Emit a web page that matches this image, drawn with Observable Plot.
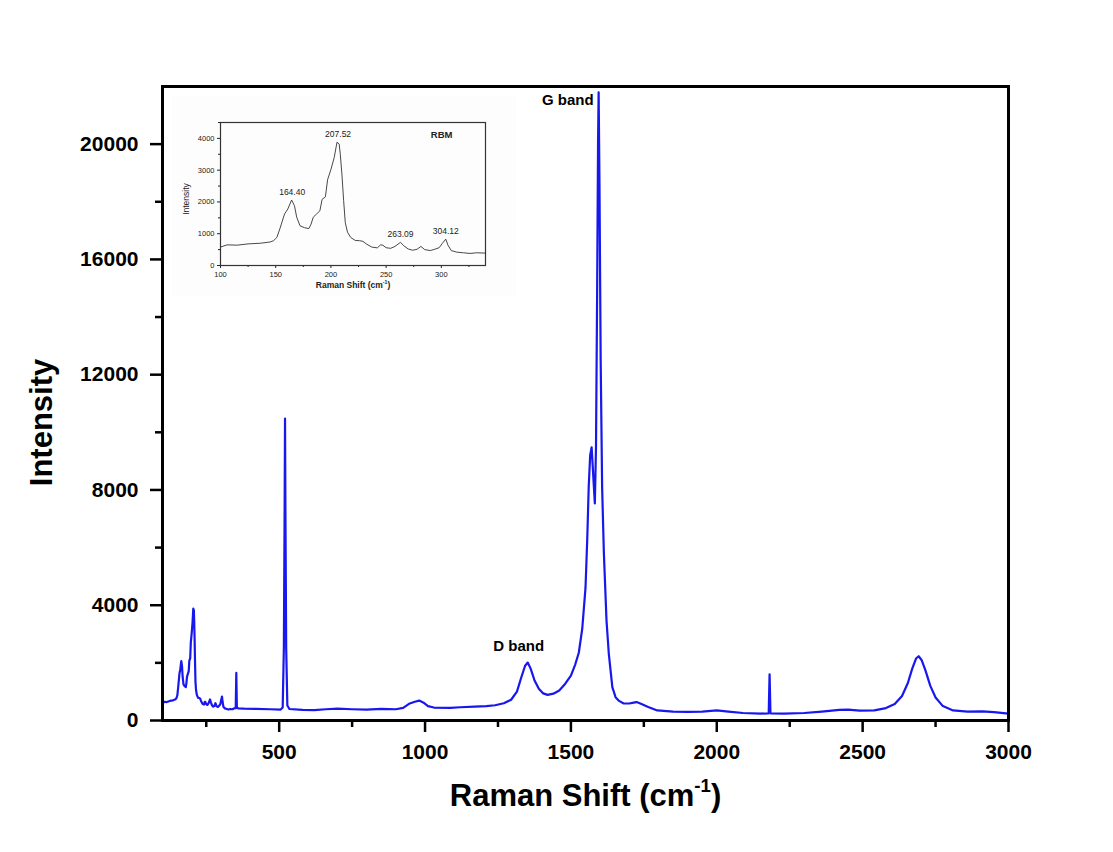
<!DOCTYPE html>
<html>
<head>
<meta charset="utf-8">
<script src="https://cdn.jsdelivr.net/npm/d3@7"></script>
<script src="https://cdn.jsdelivr.net/npm/@observablehq/plot@0.6"></script>
<style>
  html, body { margin: 0; padding: 0; background: white; overflow: hidden; }
  #wrap { position: relative; width: 1113px; height: 852px; }
  #inset { position: absolute; left: 172px; top: 96px; }
</style>
</head>
<body>
<div id="wrap"><div id="main"></div><div id="inset"></div></div>
<script>
// ---- RBM region (inset), also the low-shift part of the main spectrum ----
const rbmShift = [100,106,115,125,136,145,148,151,154,158,161,164.4,167,169,172,176,180,182,184,187,190,192,195,197,200,203,205.5,207.5,208.5,210,211.5,213,215,218,222,226,229,232,237,242,245,247,250,254,258,263,266,270,274,278,281.5,285,290,294,298,301,304,306,309,314,320,326,332,340];
const rbmIntensity = [580,650,640,680,700,740,780,880,1180,1620,1780,2060,1880,1520,1250,1190,1160,1300,1520,1620,1720,2080,2160,2700,3020,3400,3880,3820,3500,2850,2050,1350,1050,880,790,780,760,680,580,555,650,640,560,540,600,730,620,520,480,510,600,500,470,510,560,700,830,640,470,420,400,380,400,390];

// ---- rest of the main spectrum ----
const restShift = [345,351,353,355,360,380,420,470,505,512,516,518.5,520,521.5,524,528,535,580,620,660,700,750,800,850,900,925,945,965,980,995,1010,1030,1087,1120,1170,1210,1240,1270,1295,1315,1330,1343,1352,1362,1375,1390,1405,1420,1440,1460,1480,1500,1515,1527,1539,1550,1556,1561,1566,1571,1576,1582,1586,1590,1593,1595,1598,1602,1607,1613,1622,1630,1642,1653,1665,1681,1700,1715,1725,1740,1765,1796,1850,1900,1950,2000,2040,2090,2150,2178,2181,2184,2230,2300,2360,2420,2450,2490,2540,2580,2610,2635,2655,2670,2683,2692,2702,2715,2732,2750,2775,2810,2860,2910,2950,3000];
const restIntensity = [420,430,1650,440,420,410,400,390,380,450,2500,7000,10480,7000,2500,520,400,370,360,390,410,390,380,400,390,440,580,650,690,620,500,450,440,460,480,500,530,600,720,1000,1500,1900,2010,1800,1400,1100,940,890,930,1040,1270,1560,1950,2350,3200,4600,6300,8100,9200,9480,8600,7530,9500,15000,20000,21800,18500,12500,8100,5800,3470,2300,1160,810,680,590,590,620,640,580,470,350,310,300,310,350,310,260,240,250,1600,250,240,260,310,370,380,340,350,430,570,850,1300,1800,2150,2230,2100,1750,1200,800,500,350,310,320,290,240];

// ---- ticks ----
const xMajorTicks = [500,1000,1500,2000,2500,3000];
const xMinorTicks = [250,750,1250,1750,2250,2750];
const yMajorTicks = [0,4000,8000,12000,16000,20000];
const yMinorTicks = [2000,6000,10000,14000,18000];

const rbmXTicks = [100,150,200,250,300];
const rbmXMinor = [125,175,225,275,325];
const rbmYTicks = [0,1000,2000,3000,4000];
const rbmYMinor = [500,1500,2500,3500,4500];

// ---- annotations ----
const bandName = ["D band","G band"];
const bandShift = [1352,1595];
const bandPeak = [2010,21800];
const rbmPeakLabel = ["164.40","207.52","263.09","304.12"];
const rbmPeakShift = [164.9,206.5,263,304];
const rbmPeakIntensity = [2060,3880,730,830];

const xTitle = "Raman Shift (cm-1)";
const yTitle = "Intensity";

// ---- tables ----
const mainData = rbmShift.concat(restShift).map((x, i) => ({x, y: rbmIntensity.concat(restIntensity)[i]}));
const rbmData = rbmShift.map((x, i) => ({x, y: rbmIntensity[i]}));
const bands = bandName.map((name, i) => ({name, x: bandShift[i], y: bandPeak[i]}));
const rbmPeaks = rbmPeakLabel.map((label, i) => ({label, x: rbmPeakShift[i], y: rbmPeakIntensity[i]}));

const font = "'Liberation Sans', Arial, Helvetica, sans-serif";

const main = Plot.plot({
  width: 1113, height: 852,
  marginLeft: 162, marginRight: 105, marginTop: 86, marginBottom: 132,
  style: {fontFamily: font, background: "white", color: "black"},
  x: {domain: [100, 3000]},
  y: {domain: [0, 22000]},
  marks: [
    Plot.line(mainData, {x: "x", y: "y", stroke: "#1717ee", strokeWidth: 2.2}),
    Plot.axisX({ticks: xMajorTicks, tickSize: 12, tickPadding: 12, strokeWidth: 2.5, fontSize: 21, fontWeight: "bold", label: null, tickFormat: d => String(d)}),
    Plot.axisX({ticks: xMinorTicks, tickSize: 7, strokeWidth: 2.5, label: null, tickFormat: () => ""}),
    Plot.axisY({ticks: yMajorTicks, tickSize: 12, tickPadding: 12, strokeWidth: 2.5, fontSize: 21, fontWeight: "bold", label: null, tickFormat: d => String(d)}),
    Plot.axisY({ticks: yMinorTicks, tickSize: 7, strokeWidth: 2.5, label: null, tickFormat: () => ""}),
    Plot.frame({strokeWidth: 3}),
    Plot.text([yTitle], {text: d => d, frameAnchor: "left", textAnchor: "middle", rotate: -90, dx: -120, dy: 19, fontSize: 31, fontWeight: "bold"}),
    Plot.text([xTitle], {text: d => d, frameAnchor: "bottom", dy: 85, fontSize: 31, fontWeight: "bold"}),
    Plot.text(bands, {filter: d => d.name === "D band", x: "x", y: "y", text: "name", dx: -9, dy: -16, fontSize: 15, fontWeight: "bold"}),
    Plot.text(bands, {filter: d => d.name === "G band", x: "x", y: "y", text: "name", textAnchor: "end", dx: -5, dy: 8, fontSize: 15, fontWeight: "bold"})
  ]
});
document.getElementById("main").appendChild(main);

const inset = Plot.plot({
  width: 344, height: 200,
  marginLeft: 48, marginRight: 31, marginTop: 26, marginBottom: 31,
  style: {fontFamily: font, background: "#fdfdfd", color: "#222"},
  x: {domain: [100, 340]},
  y: {domain: [0, 4500]},
  marks: [
    Plot.line(rbmData, {x: "x", y: "y", stroke: "#333", strokeWidth: 0.9}),
    Plot.axisX({ticks: rbmXTicks, tickSize: 3, tickPadding: 3, fontSize: 7.5, label: null, tickFormat: d => String(d)}),
    Plot.axisX({ticks: rbmXMinor, tickSize: 2, label: null, tickFormat: () => ""}),
    Plot.axisY({ticks: rbmYTicks, tickSize: 3, tickPadding: 3, fontSize: 7.5, label: null, tickFormat: d => String(d)}),
    Plot.axisY({ticks: rbmYMinor, tickSize: 2, label: null, tickFormat: () => ""}),
    Plot.frame({stroke: "#333", strokeWidth: 1.2}),
    Plot.text(rbmPeaks, {x: "x", y: "y", text: "label", dy: -8, fontSize: 8.5}),
    Plot.text(["RBM"], {text: d => d, frameAnchor: "top-right", dx: -33, dy: 9, fontSize: 9.5, fontWeight: "bold"}),
    Plot.text([yTitle], {text: d => d, frameAnchor: "left", textAnchor: "middle", rotate: -90, dx: -34, dy: 5, fontSize: 8.5}),
    Plot.text([xTitle], {text: d => d, frameAnchor: "bottom", dy: 22, fontSize: 8.5, fontWeight: "bold"})
  ]
});
document.getElementById("inset").appendChild(inset);

// superscript the "-1" in the x-axis titles
function superscript(svg) {
  d3.select(svg).selectAll("text").filter(function() { return this.textContent === xTitle; }).each(function() {
    const t = d3.select(this);
    t.text(null);
    t.append("tspan").text("Raman Shift (cm");
    t.append("tspan").attr("dy", "-0.75em").attr("font-size", "60%").text("-1");
    t.append("tspan").attr("dy", "0.45em").text(")");
  });
}
superscript(main);
superscript(inset);
</script>
</body>
</html>
